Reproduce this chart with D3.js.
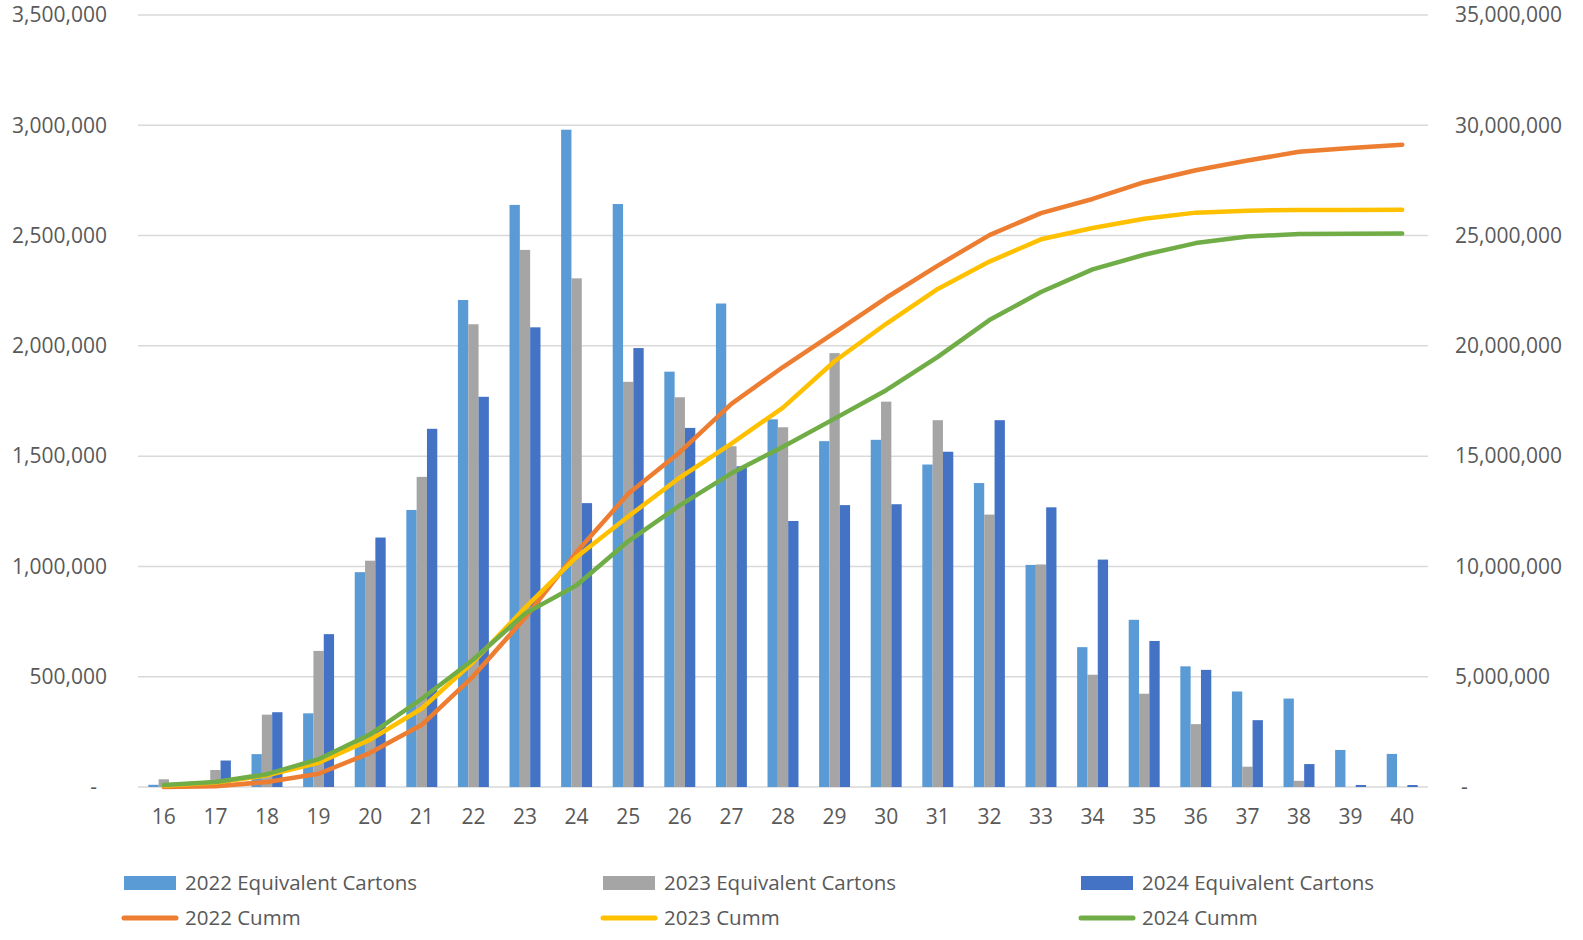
<!DOCTYPE html>
<html>
<head>
<meta charset="utf-8">
<title>Equivalent Cartons by Week</title>
<script src="https://d3js.org/d3.v7.min.js"></script>
<style>
    html, body { margin: 0; padding: 0; background: #ffffff; overflow: hidden; }
    svg { display: block; }
    text { font-family: "Open Sans", sans-serif; fill: #595959; }
</style>
</head>
<body>
<div id="chart"></div>
<script>
    // week numbers on the x axis
    var weeks = [16, 17, 18, 19, 20, 21, 22, 23, 24, 25, 26, 27, 28, 29, 30, 31, 32, 33, 34, 35, 36, 37, 38, 39, 40];

    // weekly bars (left axis)
    var cartons2022 = [10000, 0, 149000, 334000, 974000, 1256000, 2208000, 2639000, 2980000, 2643000, 1883000, 2192000, 1667000, 1568000, 1574000, 1462000, 1378000, 1007000, 634000, 758000, 547000, 433000, 401000, 168000, 150000];
    var cartons2023 = [35000, 77000, 328000, 617000, 1026000, 1406000, 2098000, 2435000, 2306000, 1837000, 1767000, 1545000, 1631000, 1967000, 1747000, 1663000, 1235000, 1009000, 509000, 423000, 285000, 92000, 28000, 0, 0];
    var cartons2024 = [0, 120000, 339000, 693000, 1131000, 1624000, 1769000, 2084000, 1287000, 1990000, 1628000, 1454000, 1206000, 1278000, 1282000, 1520000, 1663000, 1268000, 1031000, 662000, 531000, 303000, 104000, 9000, 9000];

    // cumulative lines (right axis)
    var cumm2022 = [5000, 30000, 230000, 600000, 1550000, 2820000, 5030000, 7670000, 10650000, 13290000, 15180000, 17370000, 19040000, 20600000, 22180000, 23640000, 25020000, 26020000, 26660000, 27420000, 27960000, 28400000, 28800000, 28970000, 29120000];
    var cumm2023 = [60000, 200000, 530000, 1100000, 2150000, 3560000, 5680000, 8120000, 10430000, 12260000, 14030000, 15570000, 17200000, 19300000, 21000000, 22580000, 23820000, 24830000, 25340000, 25760000, 26040000, 26130000, 26160000, 26160000, 26170000];
    var cumm2024 = [90000, 230000, 580000, 1260000, 2390000, 4000000, 5780000, 7860000, 9150000, 11140000, 12770000, 14220000, 15430000, 16700000, 17990000, 19500000, 21170000, 22440000, 23470000, 24130000, 24660000, 24960000, 25070000, 25080000, 25090000];

    var leftTicks = [0, 500000, 1000000, 1500000, 2000000, 2500000, 3000000, 3500000];
    var rightTicks = [0, 5000000, 10000000, 15000000, 20000000, 25000000, 30000000, 35000000];

    var barSeries = [
        {name: "2022 Equivalent Cartons", values: cartons2022, color: "#5B9BD5"},
        {name: "2023 Equivalent Cartons", values: cartons2023, color: "#A5A5A5"},
        {name: "2024 Equivalent Cartons", values: cartons2024, color: "#4472C4"}
    ];
    var lineSeries = [
        {name: "2022 Cumm", values: cumm2022, color: "#ED7D31"},
        {name: "2023 Cumm", values: cumm2023, color: "#FFC000"},
        {name: "2024 Cumm", values: cumm2024, color: "#70AD47"}
    ];

    var W = 1583, H = 940;
    var margin = {top: 15, right: 155, bottom: 153, left: 138},
        width = W - margin.left - margin.right,
        height = H - margin.top - margin.bottom;

    var svg = d3.select("#chart")
        .append("svg")
            .attr("width", W)
            .attr("height", H)
        .append("g")
            .attr("transform", "translate(" + margin.left + "," + margin.top + ")");

    var x = d3.scaleBand()
        .domain(weeks)
        .range([0, width])
        .paddingInner(0.4)
        .paddingOuter(0.2);

    var xSub = d3.scaleBand()
        .domain([0, 1, 2])
        .range([0, x.bandwidth()]);

    var y = d3.scaleLinear().domain([0, 3500000]).range([height, 0]);
    var y2 = d3.scaleLinear().domain([0, 35000000]).range([height, 0]);

    var fmt = function(d) { return d === 0 ? "-" : d3.format(",")(d); };

    // gridlines
    svg.append("g")
        .selectAll("line")
        .data(leftTicks)
        .enter()
        .append("line")
            .attr("x1", 0)
            .attr("x2", width)
            .attr("y1", function(d) { return y(d); })
            .attr("y2", function(d) { return y(d); })
            .attr("stroke", "#d9d9d9")
            .attr("stroke-width", 1.5);

    // left axis
    var yAxis = svg.append("g")
        .attr("transform", "translate(-28,0)")
        .call(d3.axisLeft(y).tickValues(leftTicks).tickFormat(fmt).tickSize(0));
    yAxis.select(".domain").remove();
    yAxis.selectAll("text")
        .style("font-size", "21px")
        .style("font-family", "Open Sans")
        .attr("fill", "#595959")
        .attr("dx", function(d) { return d === 0 ? "-10" : "0"; });

    // right axis
    var y2Axis = svg.append("g")
        .attr("transform", "translate(" + (width + 24) + ",0)")
        .call(d3.axisRight(y2).tickValues(rightTicks).tickFormat(fmt).tickSize(0));
    y2Axis.select(".domain").remove();
    y2Axis.selectAll("text")
        .style("font-size", "21px")
        .style("font-family", "Open Sans")
        .attr("fill", "#595959")
        .attr("dx", function(d) { return d === 0 ? "6" : "0"; });

    // x axis
    var xAxis = svg.append("g")
        .attr("transform", "translate(0," + height + ")")
        .call(d3.axisBottom(x).tickSize(0).tickPadding(22));
    xAxis.select(".domain").remove();
    xAxis.selectAll("text")
        .style("font-size", "21px")
        .style("font-family", "Open Sans")
        .attr("fill", "#595959");

    // bars
    barSeries.forEach(function(s, i) {
        svg.append("g")
            .selectAll("rect")
            .data(s.values)
            .enter()
            .append("rect")
                .attr("x", function(d, j) { return x(weeks[j]) + xSub(i); })
                .attr("y", function(d) { return y(d); })
                .attr("width", xSub.bandwidth())
                .attr("height", function(d) { return height - y(d); })
                .attr("fill", s.color);
    });

    // cumulative lines
    lineSeries.forEach(function(s) {
        var line = d3.line()
            .x(function(d, j) { return x(weeks[j]) + x.bandwidth() / 2; })
            .y(function(d) { return y2(d); });
        svg.append("path")
            .datum(s.values)
            .attr("d", line)
            .attr("fill", "none")
            .attr("stroke", s.color)
            .attr("stroke-width", 4.5)
            .attr("stroke-linejoin", "round")
            .attr("stroke-linecap", "round");
    });

    // legend
    var legendX = [124, 603, 1081];
    var legend = d3.select("svg").append("g");
    barSeries.forEach(function(s, i) {
        legend.append("rect")
            .attr("x", legendX[i])
            .attr("y", 876)
            .attr("width", 52)
            .attr("height", 14)
            .attr("fill", s.color);
        legend.append("text")
            .attr("x", legendX[i] + 61)
            .attr("y", 883)
            .attr("dy", "0.35em")
            .style("font-size", "20.5px")
            .text(s.name);
    });
    lineSeries.forEach(function(s, i) {
        legend.append("line")
            .attr("x1", legendX[i])
            .attr("x2", legendX[i] + 52)
            .attr("y1", 918)
            .attr("y2", 918)
            .attr("stroke", s.color)
            .attr("stroke-width", 5)
            .attr("stroke-linecap", "round");
        legend.append("text")
            .attr("x", legendX[i] + 61)
            .attr("y", 918)
            .attr("dy", "0.35em")
            .style("font-size", "20.5px")
            .text(s.name);
    });
</script>
</body>
</html>
